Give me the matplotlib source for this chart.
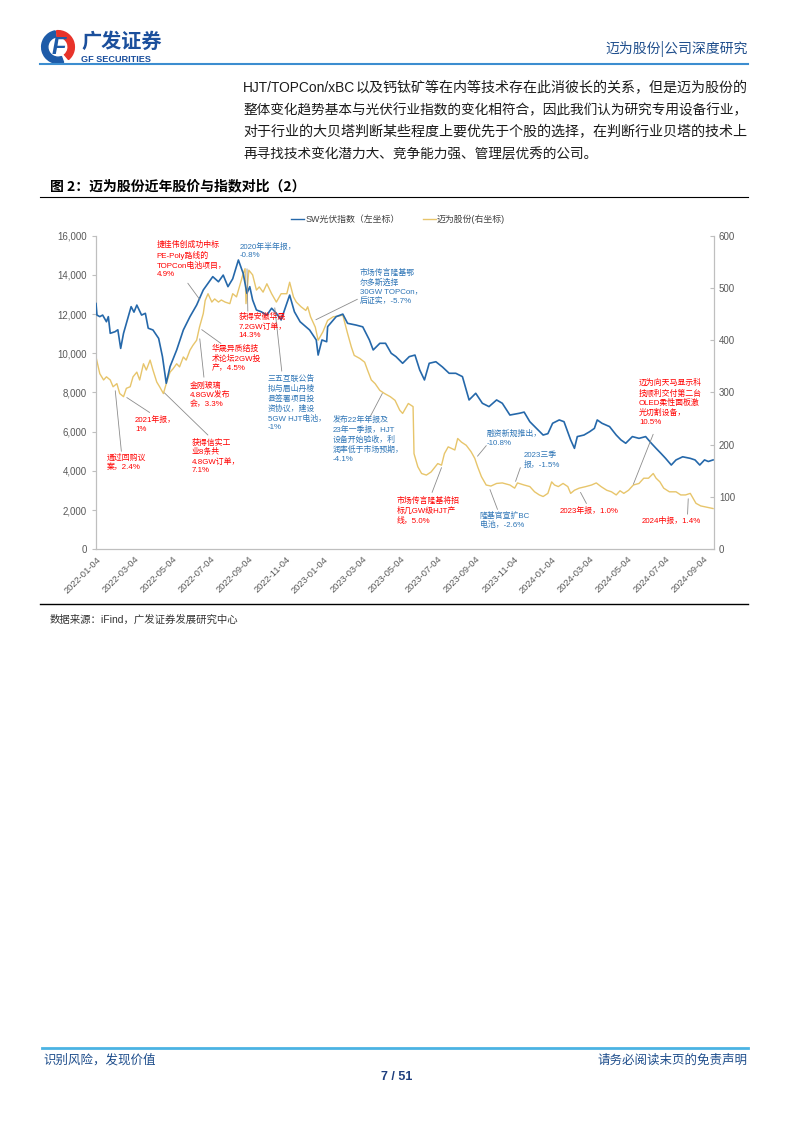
import numpy as np
import matplotlib
matplotlib.use("Agg")
import matplotlib.pyplot as plt
from matplotlib.lines import Line2D
from matplotlib.patches import Wedge
from matplotlib.ticker import FuncFormatter

plt.rcParams['font.family'] = ['Liberation Sans', 'Noto Sans CJK SC', 'DejaVu Sans']

# x axis: trading-day index, labelled every 40 days
tick_days = list(range(0, 641, 40))
tick_labels = ['2022-01-04', '2022-03-04', '2022-05-04', '2022-07-04', '2022-09-04',
               '2022-11-04', '2023-01-04', '2023-03-04', '2023-05-04', '2023-07-04',
               '2023-09-04', '2023-11-04', '2024-01-04', '2024-03-04', '2024-05-04',
               '2024-07-04', '2024-09-04']

# SW光伏指数 (left axis)
sw_day = [0, 1, 4, 7, 11, 13, 15, 20, 23, 26, 29, 32, 37, 40, 43, 48, 52, 55, 60, 66,
          70, 74, 78, 85, 92, 99, 106, 113, 118, 123, 129, 134, 139, 144, 150, 155, 159, 162, 165, 169,
          174, 180, 185, 190, 195, 201, 204, 209, 215, 225, 232, 234, 238, 243, 244, 253, 260, 265, 274, 281,
          288, 292, 299, 305, 311, 316, 323, 330, 336, 341, 346, 351, 358, 365, 372, 379, 386, 389, 393, 400,
          407, 414, 422, 428, 436, 446, 451, 457, 464, 471, 476, 481, 488, 493, 500, 504, 507, 514, 520, 525,
          528, 533, 541, 548, 553, 558, 565, 572, 579, 585, 590, 595, 600, 606, 611, 618, 626, 631, 636, 641,
          645, 650]
sw_val = [12540, 11950, 11870, 11950, 11610, 11870, 11020, 11100, 11200, 10250,
          11020, 11530, 12380, 12100, 12460, 11950, 12040, 11280, 11190, 10760,
          9830, 8470, 9320, 10170, 11190, 11870, 12460, 13230, 13570, 13910,
          13650, 13990, 13400, 13800, 14760, 14080, 13060, 13400, 12720, 12210,
          12120, 11950, 12300, 12040, 11700, 12550, 12970, 12120, 11610, 11190,
          10680, 9910, 10680, 10590, 11360, 11870, 12000, 11530, 11440, 11350,
          10680, 10170, 10510, 10510, 10000, 9830, 9490, 9830, 9910, 9150,
          8640, 9490, 9570, 9300, 8980, 8980, 8810, 8300, 7620, 7960,
          7450, 7280, 7620, 7450, 6850, 6940, 7000, 6510, 6170, 5830,
          5900, 6430, 6600, 6510, 5580, 5150, 5750, 5830, 6000, 6170,
          6600, 6430, 6260, 5830, 5580, 5410, 5750, 5660, 5750, 5410,
          5150, 4900, 4640, 4300, 4560, 4720, 4640, 4560, 4300, 4560,
          4480, 4560]

# 迈为股份 (right axis)
mw_day = [0, 4, 8, 11, 15, 18, 22, 25, 29, 32, 36, 39, 43, 46, 50, 53, 57, 60, 64, 67,
          71, 74, 78, 81, 85, 88, 92, 95, 99, 102, 106, 109, 113, 115, 118, 122, 125, 129, 132, 136,
          141, 144, 148, 151, 155, 157, 158, 161, 165, 169, 172, 176, 180, 185, 190, 195, 201, 204, 208, 211,
          216, 221, 223, 226, 231, 234, 239, 244, 250, 255, 260, 265, 269, 272, 278, 283, 286, 290, 294, 299,
          304, 310, 315, 320, 323, 329, 334, 335, 339, 343, 348, 353, 360, 364, 367, 371, 378, 381, 385, 390,
          395, 399, 402, 406, 411, 416, 422, 428, 436, 441, 444, 451, 457, 462, 467, 471, 476, 480, 483, 487,
          492, 497, 500, 504, 509, 516, 522, 527, 532, 538, 543, 548, 552, 556, 561, 566, 572, 577, 582, 587,
          590, 594, 598, 604, 611, 616, 621, 626, 632, 637, 642, 650]
mw_val = [368, 336, 324, 330, 324, 311, 317, 298, 292, 308,
          311, 330, 339, 324, 355, 343, 362, 343, 320, 311,
          298, 317, 339, 345, 355, 349, 368, 362, 381, 390,
          400, 425, 451, 476, 489, 473, 479, 473, 477, 473,
          470, 489, 483, 502, 527, 537, 470, 534, 525, 496,
          502, 492, 508, 489, 473, 489, 489, 511, 483, 473,
          464, 457, 464, 445, 425, 400, 416, 438, 445, 446,
          448, 413, 387, 371, 365, 358, 343, 324, 317, 304,
          298, 292, 285, 266, 260, 279, 273, 183, 158, 145,
          142, 148, 164, 161, 183, 196, 190, 212, 205, 199,
          187, 174, 158, 139, 123, 121, 126, 127, 123, 117,
          127, 123, 120, 110, 104, 101, 107, 129, 123, 120,
          126, 120, 107, 113, 117, 120, 123, 127, 120, 113,
          110, 104, 112, 107, 113, 123, 126, 136, 136, 145,
          136, 129, 117, 110, 110, 104, 104, 107, 88, 83,
          81, 78]

RED = '#FF0000'
BLUE_T = '#2E75B6'
# (text, colour, text x/y in (day, left value), leader line or None)
notes = [
    ('捷佳伟创成功中标\nPE-Poly路线的\nTOPCon电池项目，\n4.9%', RED, 64, 15750, (95, 13690, 111, 12630)),
    ('获得安徽华晟\n7.2GW订单，\n14.3%', RED, 150, 12050, (159, 14450, 160, 12000)),
    ('华晟异质结技\n术论坛2GW投\n产，4.5%', RED, 122, 10450, (109, 11290, 134, 10420)),
    ('金刚玻璃\n4.8GW发布\n会，3.3%', RED, 99, 8560, (109, 10880, 114, 8640)),
    ('2021年报，\n1%', RED, 41, 6780, (30, 7820, 59, 6900)),
    ('通过回购议\n案，2.4%', RED, 11, 4890, (20, 8230, 27, 4860)),
    ('获得信实工\n业8条共\n4.8GW订单，\n7.1%', RED, 101, 5650, (70, 8080, 120, 5730)),
    ('市场传言隆基将招\n标几GW级HJT产\n线，5.0%', RED, 317, 2690, (365, 4300, 353, 2770)),
    ('2023年报，1.0%', RED, 488, 2180, (509, 3030, 518, 2210)),
    ('2024中报，1.4%', RED, 575, 1670, (624, 2720, 623, 1650)),
    ('迈为向天马显示科\n技顺利交付第二台\nOLED柔性面板激\n光切割设备，\n10.5%', RED, 572, 8690,
     (565, 3190, 588, 6000)),
    ('2020年半年报，\n-0.8%', BLUE_T, 151, 15650, None),
    ('市场传言隆基鄂\n尔多斯选择\n30GW TOPCon，\n后证实，-5.7%', BLUE_T, 278, 14330, (229, 11650, 278, 12820)),
    ('三五互联公告\n拟与眉山丹棱\n县签署项目投\n资协议，建设\n5GW HJT电池，\n-1%', BLUE_T, 181, 8890,
     (188, 12460, 196, 8950)),
    ('发布22年年报及\n23年一季报，HJT\n设备开始验收，利\n润率低于市场预期，\n-4.1%', BLUE_T, 249, 6780,
     (303, 8080, 287, 6600)),
    ('融资新规推出，\n-10.8%', BLUE_T, 411, 6090, (400, 4640, 413, 5400)),
    ('2023三季\n报，-1.5%', BLUE_T, 451, 4990, (441, 3330, 448, 4300)),
    ('隆基官宣扩BC\n电池，-2.6%', BLUE_T, 404, 1930, (414, 3180, 424, 1900)),
]

W, H = 794, 1123
fig = plt.figure(figsize=(W / 100, H / 100), dpi=100)
renderer = fig.canvas.get_renderer()


def fx(x):
    return x / W


def fy(y):
    return 1 - y / H


def fit_text(x0, x1, y, s, size, **kw):
    # stretch a text line so it fills x0..x1, like the justified paragraph
    t = fig.text(fx(x0), fy(y), s, fontsize=size, va='center', **kw)
    w = t.get_window_extent(renderer).width
    t.set_fontsize(size * (x1 - x0) / w)
    return t


# ---- page header ----
logo = fig.add_axes([fx(39), fy(65), 38 / W, 36 / H])
logo.set_xlim(-1.1, 1.1)
logo.set_ylim(-1.1, 1.1)
logo.set_aspect('equal')
logo.axis('off')
logo.add_patch(Wedge((0, 0), 1.0, 100, 290, width=0.38, color='#1E5BA8'))
logo.add_patch(Wedge((0, 0), 1.0, -50, 95, width=0.38, color='#E8332A'))
logo.text(0.05, -0.05, 'F', fontsize=17, fontweight='bold', style='italic', color='#1E5BA8',
          ha='center', va='center')
fig.text(fx(81), fy(41), '广发证券', fontsize=14.5, fontweight='bold', color='#1B4F9C',
         family=['Noto Sans CJK SC'], va='center')
fig.text(fx(81), fy(59), 'GF SECURITIES', fontsize=6.6, fontweight='bold', color='#1B4F9C', va='center')
fig.text(fx(748), fy(49), '迈为股份|公司深度研究', fontsize=10, color='#1F4E8C',
         family=['Noto Sans CJK SC'], ha='right', va='center')
fig.add_artist(Line2D([fx(40), fx(748)], [fy(64), fy(64)], color='#3C8DD0', lw=1.5))

# ---- paragraph ----
fit_text(243, 355, 88, 'HJT/TOPCon/xBC', 10, color='#1A1A1A')
fit_text(356, 748, 88, '以及钙钛矿等在内等技术存在此消彼长的关系，但是迈为股份的', 10, color='#1A1A1A')
fit_text(243, 748, 110, '整体变化趋势基本与光伏行业指数的变化相符合，因此我们认为研究专用设备行业，', 10,
         color='#1A1A1A')
fit_text(243, 748, 132, '对于行业的大贝塔判断某些程度上要优先于个股的选择，在判断行业贝塔的技术上', 10,
         color='#1A1A1A')
fig.text(fx(243), fy(154), '再寻找技术变化潜力大、竞争能力强、管理层优秀的公司。', fontsize=9.85,
         color='#1A1A1A', va='center')

fig.text(fx(50), fy(186), '图 2：迈为股份近年股价与指数对比（2）', fontsize=10, fontweight='bold',
         color='#000000', family=['Noto Sans CJK SC'], va='center')
fig.add_artist(Line2D([fx(40), fx(748)], [fy(197), fy(197)], color='#000000', lw=0.8))

# ---- chart ----
ax = fig.add_axes([fx(96), fy(549.3), (714 - 96) / W, (549.3 - 235.7) / H])
ax2 = ax.twinx()
ax.plot(sw_day, sw_val, color='#2568AA', lw=1.2, zorder=3)
ax2.plot(mw_day, mw_val, color='#E7C56B', lw=1.0, zorder=2)
ax.set_zorder(ax2.get_zorder() + 1)
ax.patch.set_visible(False)

ax.set_xlim(0, 651)
ax.set_ylim(0, 16000)
ax2.set_ylim(0, 600)
ax.set_yticks(range(0, 16001, 2000))
ax.yaxis.set_major_formatter(FuncFormatter(lambda v, p: f'{int(v):,}'))
ax2.set_yticks(range(0, 601, 100))
ax.set_xticks(tick_days)
ax.set_xticklabels(tick_labels, rotation=45, ha='right', rotation_mode='anchor')

for a in (ax, ax2):
    for s in a.spines.values():
        s.set_color('#BFBFBF')
        s.set_linewidth(0.8)
    a.spines['top'].set_visible(False)
ax.tick_params(axis='y', labelsize=7, colors='#595959', length=3, color='#BFBFBF')
ax.tick_params(axis='x', labelsize=6.7, colors='#595959', length=0, pad=4)
ax2.tick_params(axis='y', labelsize=7, colors='#595959', length=3, color='#BFBFBF', direction='in')

for text, col, tx, ty, lead in notes:
    if lead is not None:
        ax.annotate('', xy=(lead[2], lead[3]), xytext=(lead[0], lead[1]),
                    arrowprops=dict(arrowstyle='-', color='#8C8C8C', lw=0.6), zorder=4)
    ax.text(tx, ty, text, color=col, fontsize=5.7, ha='left', va='top', linespacing=1.3, zorder=5)

handles = [Line2D([], [], color='#2568AA', lw=1.0), Line2D([], [], color='#E7C56B', lw=1.0)]
fig.legend(handles, ['SW光伏指数（左坐标）', '迈为股份(右坐标)'], loc='center',
           bbox_to_anchor=(fx(398), fy(219)), ncol=2, frameon=False, fontsize=6.4,
           handlelength=1.5, handletextpad=0.1, columnspacing=2.6, labelcolor='#404040')

# ---- source + footer ----
fig.add_artist(Line2D([fx(40), fx(748)], [fy(604), fy(604)], color='#000000', lw=1.0))
fig.text(fx(50), fy(620), '数据来源：iFind，广发证券发展研究中心', fontsize=7.5, color='#333333', va='center')

fig.add_artist(Line2D([fx(42), fx(748)], [fy(1048), fy(1048)], color='#4BB3E3', lw=2))
fig.text(fx(43), fy(1060), '识别风险，发现价值', fontsize=9, color='#1F4E8C',
         family=['Noto Sans CJK SC'], va='center')
fig.text(fx(748), fy(1060), '请务必阅读末页的免责声明', fontsize=9, color='#1F4E8C',
         family=['Noto Sans CJK SC'], va='center', ha='right')
fig.text(fx(397), fy(1077), '7 / 51', fontsize=9, fontweight='bold', color='#1F3F7F',
         va='center', ha='center')

fig.savefig('out.png', dpi=100)
